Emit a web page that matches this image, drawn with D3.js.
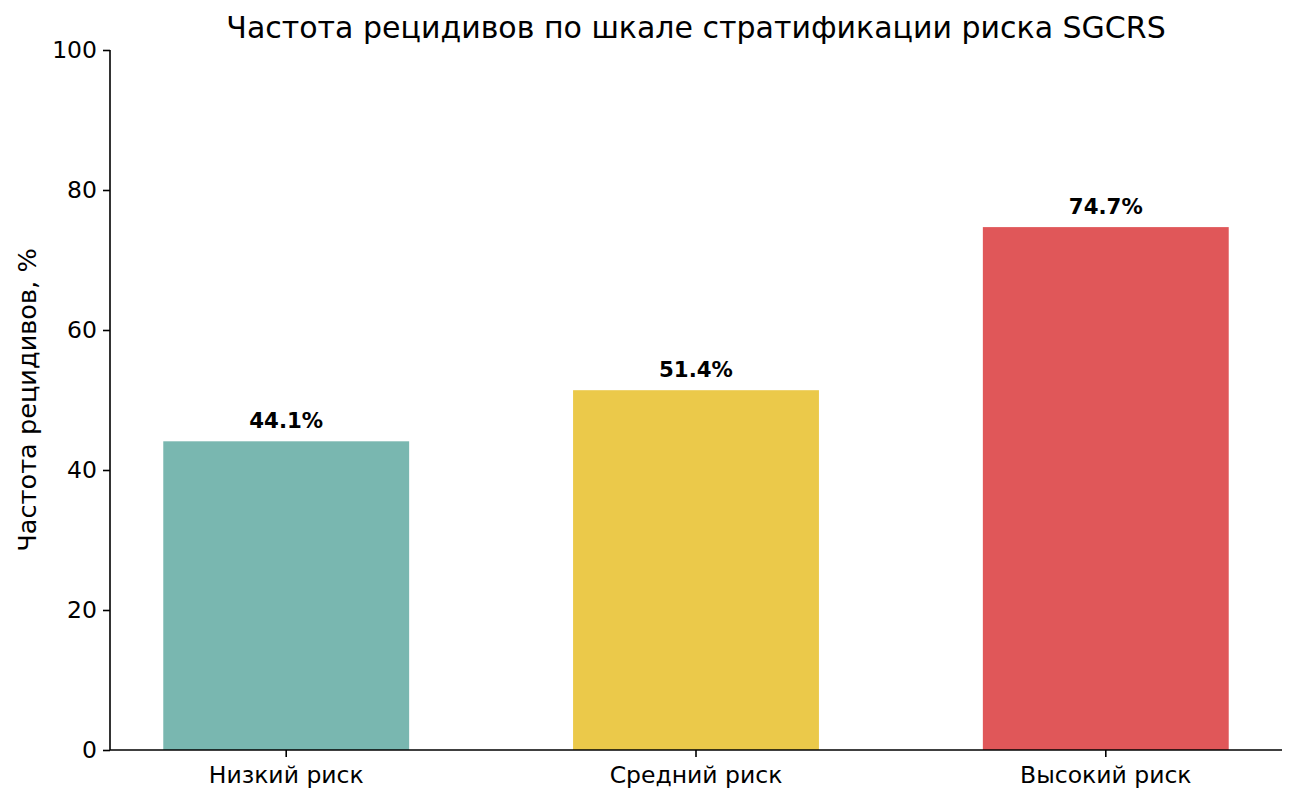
<!DOCTYPE html>
<html><head><meta charset="utf-8">
<script src="https://cdn.jsdelivr.net/npm/d3@7"></script>
<style>body{margin:0;background:#fff}svg{display:block}text{font-family:"DejaVu Sans",sans-serif}</style>
</head><body>
<script>
const categories = ["Низкий риск", "Средний риск", "Высокий риск"];
const values = [44.1, 51.4, 74.7];
const colors = ["#79b7b0", "#ebc94a", "#e05759"];
const yTicks = [0, 20, 40, 60, 80, 100];
const title = "Частота рецидивов по шкале стратификации риска SGCRS";
const yLabel = "Частота рецидивов, %";

const W = 1298, H = 804;
const m = {left: 110, right: 16, top: 50, bottom: 54};
const svg = d3.select("body").append("svg").attr("width", W).attr("height", H);

const x = d3.scaleBand().domain(categories).range([m.left, W - m.right]).paddingInner(0.4).paddingOuter(0.13);
const y = d3.scaleLinear().domain([0, 100]).range([H - m.bottom, m.top]);

svg.selectAll("rect.bar").data(values).join("rect").attr("class", "bar")
  .attr("x", (d, i) => x(categories[i])).attr("width", x.bandwidth())
  .attr("y", d => y(d)).attr("height", d => y(0) - y(d))
  .attr("fill", (d, i) => colors[i]);

svg.selectAll("text.val").data(values).join("text").attr("class", "val")
  .attr("x", (d, i) => x(categories[i]) + x.bandwidth() / 2)
  .attr("y", d => y(d) - 13)
  .attr("text-anchor", "middle").attr("font-weight", "bold").attr("font-size", 21.3)
  .text(d => d.toFixed(1) + "%");

const ya = svg.append("g").attr("transform", `translate(${m.left},0)`)
  .call(d3.axisLeft(y).tickValues(yTicks).tickSize(7).tickPadding(6));
const xa = svg.append("g").attr("transform", `translate(0,${H - m.bottom})`)
  .call(d3.axisBottom(x).tickSize(7).tickPadding(9).tickSizeOuter(0));
[ya, xa].forEach(g => {
  g.attr("font-size", 23.5).attr("font-family", '"DejaVu Sans",sans-serif');
  g.selectAll("text").attr("font-size", 23.5).attr("fill", "#000");
  g.selectAll("line, path").attr("stroke", "#000").attr("stroke-width", 1.6);
});
ya.select(".domain").attr("d", `M0,${y(100)}V${y(0)}`);
xa.select(".domain").attr("d", `M${m.left},0H${W - m.right}`);

svg.append("text").attr("x", (m.left + W - m.right) / 2).attr("y", 38)
  .attr("text-anchor", "middle").attr("font-size", 30).text(title);

svg.append("text").attr("transform", `translate(36,${y(50)}) rotate(-90)`)
  .attr("text-anchor", "middle").attr("font-size", 25.6).text(yLabel);
</script>
</body></html>
